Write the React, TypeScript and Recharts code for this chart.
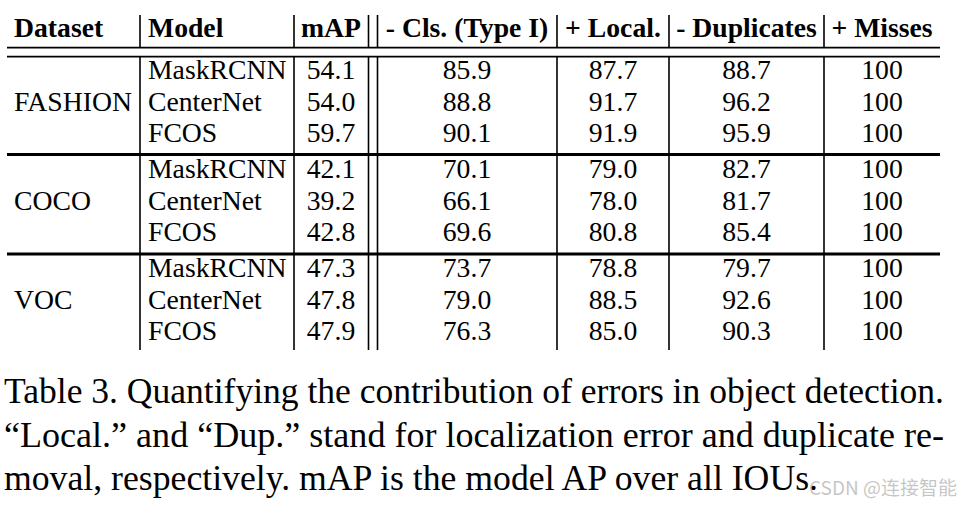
import { ScatterChart, Scatter, XAxis, YAxis, ReferenceLine } from 'recharts';

// table content
const headers = ['Dataset', 'Model', 'mAP', '- Cls. (Type I)', '+ Local.', '- Duplicates', '+ Misses'];
const datasets = ['FASHION', 'COCO', 'VOC'];
const models = ['MaskRCNN', 'CenterNet', 'FCOS'];
const mAP = [54.1, 54.0, 59.7, 42.1, 39.2, 42.8, 47.3, 47.8, 47.9];
const cls = [85.9, 88.8, 90.1, 70.1, 66.1, 69.6, 73.7, 79.0, 76.3];
const local = [87.7, 91.7, 91.9, 79.0, 78.0, 80.8, 78.8, 88.5, 85.0];
const duplicates = [88.7, 96.2, 95.9, 82.7, 81.7, 85.4, 79.7, 92.6, 90.3];
const misses = [100, 100, 100, 100, 100, 100, 100, 100, 100];

const captionLines = [
  'Table 3. Quantifying the contribution of errors in object detection.',
  '\u201cLocal.\u201d and \u201cDup.\u201d stand for localization error and duplicate re-',
  'moval, respectively. mAP is the model AP over all IOUs.',
];
const watermark = 'CSDN @连接智能';

// layout
const W = 957;
const H = 507;
const SERIF = 'Liberation Serif, Tinos, DejaVu Serif, serif';
const FONT = 26.5;
const STRETCH = 1.045;
const LEFT = 7;
const RIGHT = 940;
const TOP = 15;
const BOTTOM = 350;
const HEAD_RULES = [47.7, 56.7];
const GROUP_RULES = [154.5, 254];
const VLINES = [140, 294, 368.5, 377.5, 557, 669, 824];
const COL_X = [14, 148, 331, 467, 613, 746.5, 882];
const ANCHOR = ['start', 'start', 'middle', 'middle', 'middle', 'middle', 'middle'];
const HEAD_Y = 37;
const rowY = (g: number, r: number) => 79 + g * 99 + r * 31.5;
const CAPTION_Y = [402.5, 446.5, 490];
const CAPTION_LEN = [940, 940, 814];

const fmt = (v: number, i: number) => (i === 4 ? String(v) : v.toFixed(1));

const headerData = headers.map((label, i) => ({ x: COL_X[i], y: HEAD_Y, label, anchor: ANCHOR[i] }));

const datasetData = datasets.map((label, g) => ({ x: COL_X[0], y: rowY(g, 1), label, anchor: 'start' }));

const bodyData = datasets.flatMap((_, g) =>
  models.flatMap((model, r) => {
    const k = g * 3 + r;
    const y = rowY(g, r);
    const vals = [mAP[k], cls[k], local[k], duplicates[k], misses[k]];
    return [
      { x: COL_X[1], y, label: model, anchor: 'start' },
      ...vals.map((v, i) => ({ x: COL_X[i + 2], y, label: fmt(v, i), anchor: 'middle' })),
    ];
  })
);

const captionData = captionLines.map((label, i) => ({ x: 4, y: CAPTION_Y[i], label, len: CAPTION_LEN[i] }));
const watermarkData = [{ x: 809, y: 495, label: watermark }];

// text is a touch wider than plain Times in the source image
const cellText = (bold: boolean) => (props: any) => (
  <text
    x={0}
    y={0}
    transform={`translate(${props.cx},${props.cy}) scale(${STRETCH},1)`}
    textAnchor={props.payload.anchor}
    style={{ fontFamily: SERIF, fontSize: FONT, fontWeight: bold ? 700 : 400 }}
    fill="#000"
  >
    {props.payload.label}
  </text>
);

const captionText = (props: any) => (
  <text
    x={props.cx}
    y={props.cy}
    style={{ fontFamily: SERIF, fontSize: 36 }}
    textLength={props.payload.len}
    lengthAdjust="spacingAndGlyphs"
    fill="#000"
  >
    {props.payload.label}
  </text>
);

const watermarkText = (props: any) => (
  <text
    x={props.cx}
    y={props.cy}
    style={{ fontFamily: 'Noto Sans CJK SC, Noto Sans, sans-serif', fontSize: 19 }}
    fill="rgba(140,140,140,0.5)"
  >
    {props.payload.label}
  </text>
);

export default function App() {
  const line = { stroke: '#000', ifOverflow: 'visible' as const };
  return (
    <div style={{ position: 'absolute', left: 0, top: 0, background: '#fff' }}>
      <ScatterChart width={W} height={H} margin={{ top: 0, right: 0, bottom: 0, left: 0 }}>
        <XAxis type="number" dataKey="x" domain={[0, W]} hide />
        <YAxis type="number" dataKey="y" domain={[0, H]} reversed hide />

        {HEAD_RULES.map(y => (
          <ReferenceLine key={`h${y}`} segment={[{ x: LEFT, y }, { x: RIGHT, y }]} strokeWidth={1.7} {...line} />
        ))}
        {GROUP_RULES.map(y => (
          <ReferenceLine key={`g${y}`} segment={[{ x: LEFT, y }, { x: RIGHT, y }]} strokeWidth={2.8} {...line} />
        ))}
        {VLINES.map(x => (
          <ReferenceLine key={`a${x}`} segment={[{ x, y: TOP }, { x, y: HEAD_RULES[0] }]} strokeWidth={1.6} {...line} />
        ))}
        {VLINES.map(x => (
          <ReferenceLine key={`b${x}`} segment={[{ x, y: HEAD_RULES[1] }, { x, y: BOTTOM }]} strokeWidth={1.6} {...line} />
        ))}

        <Scatter data={headerData} shape={cellText(true)} isAnimationActive={false} />
        <Scatter data={datasetData} shape={cellText(false)} isAnimationActive={false} />
        <Scatter data={bodyData} shape={cellText(false)} isAnimationActive={false} />
        <Scatter data={captionData} shape={captionText} isAnimationActive={false} />
        <Scatter data={watermarkData} shape={watermarkText} isAnimationActive={false} />
      </ScatterChart>
    </div>
  );
}
